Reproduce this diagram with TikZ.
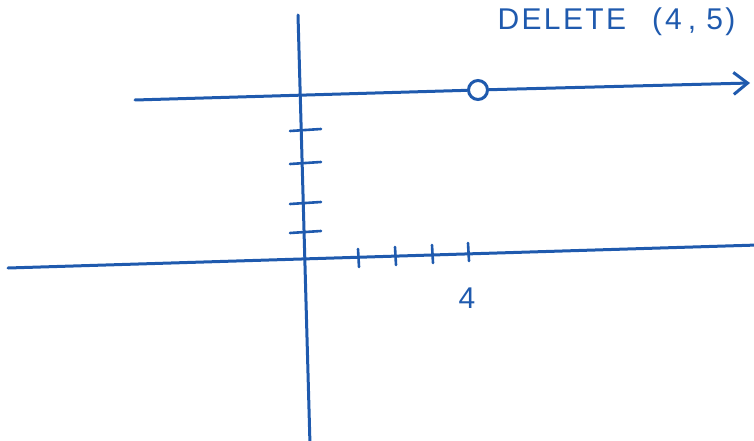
\documentclass[tikz,border=0pt]{standalone}
\usepackage{fontspec}
\setsansfont{Liberation Sans}
\usetikzlibrary{arrows.meta}
\definecolor{penBlue}{HTML}{1F5AAE}

\begin{document}
\begin{tikzpicture}[x=1pt, y=-1pt,
    pen/.style={draw=penBlue, line width=3pt, line cap=round},
    tick/.style={pen, line width=2.6pt},
    hole/.style={circle, draw=penBlue, line width=3pt, fill=white, minimum size=19pt, inner sep=0pt},
    note/.style={text=penBlue, font=\sffamily\fontsize{30}{30}\selectfont\addfontfeatures{LetterSpace=8}, anchor=west}
]
    \useasboundingbox (0,0) rectangle (754,441);
    \clip (0,0) rectangle (754,441);

    % Axes
    \coordinate (ytop) at (298,15);
    \coordinate (ybot) at (310,445);
    \coordinate (xleft) at (8,268);
    \coordinate (xright) at (758,245);
    \draw[pen] (ytop) -- (ybot);
    \draw[pen] (xleft) -- (xright);

    % Ticks on the y axis
    \foreach \yy in {130,163,203,232}
        \draw[tick] (290,\yy+1) -- (321,\yy-1);

    % Ticks on the x axis
    \foreach \xx/\yy in {358/258,395/256,432/254,468/252}
        \draw[tick] (\xx,\yy-9) -- (\xx+1,\yy+9);
    \node[text=penBlue, font=\sffamily\fontsize{30}{30}\selectfont] (four) at (467,298) {4};

    % Graph with the hole
    \node[hole] (gap) at (478,90) {};
    \coordinate (gstart) at (135,100);
    \coordinate (gend) at (750,83);
    \draw[pen] (gstart) -- (gap);
    \draw[pen, -{Straight Barb[length=14pt, width=22pt]}] (gap) -- (gend);

    % Note
    \node[note] (del) at (494,22) {DELETE\hspace{26pt}(\hspace{3pt}4\hspace{6pt},\hspace{10pt}5)};
\end{tikzpicture}
\end{document}
